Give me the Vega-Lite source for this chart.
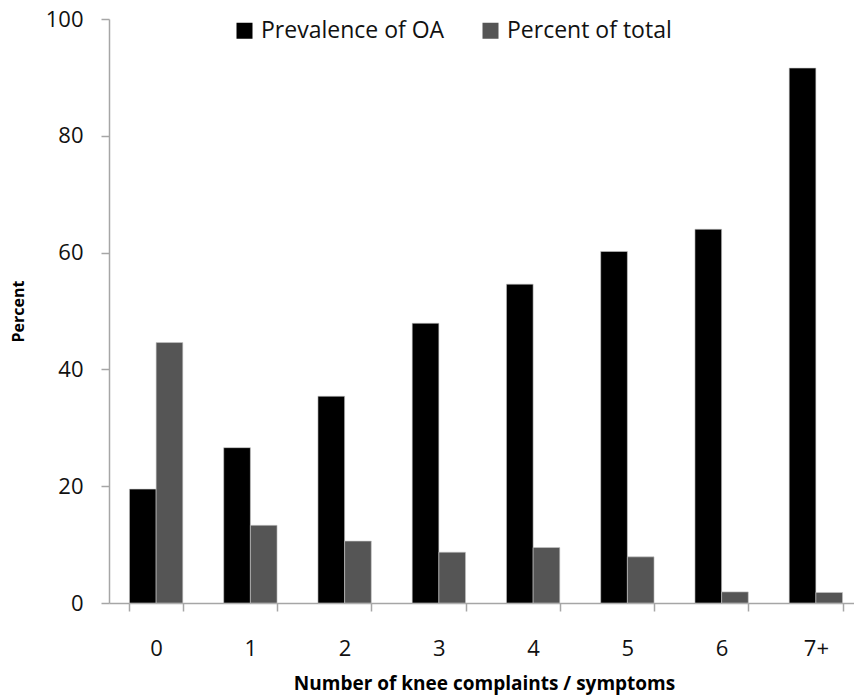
{
  "$schema": "https://vega.github.io/schema/vega-lite/v6.json",
  "autosize": {"type": "none"},
  "padding": {"left": 109, "top": 19, "right": 0, "bottom": 94},
  "width": 745,
  "height": 584,
  "background": "white",
  "config": {
    "view": {"stroke": null},
    "font": "Open Sans",
    "axis": {"grid": false, "domainColor": "#a6a6a6", "tickColor": "#a6a6a6", "domainWidth": 1.5, "tickWidth": 1.5, "labelColor": "#111111", "titleColor": "#000000"}
  },
  "data": {
    "values": [
      {"category": "0", "series": "Prevalence of OA", "value": 19.5},
      {"category": "0", "series": "Percent of total", "value": 44.6},
      {"category": "1", "series": "Prevalence of OA", "value": 26.6},
      {"category": "1", "series": "Percent of total", "value": 13.3},
      {"category": "2", "series": "Prevalence of OA", "value": 35.4},
      {"category": "2", "series": "Percent of total", "value": 10.6},
      {"category": "3", "series": "Prevalence of OA", "value": 47.9},
      {"category": "3", "series": "Percent of total", "value": 8.7},
      {"category": "4", "series": "Prevalence of OA", "value": 54.6},
      {"category": "4", "series": "Percent of total", "value": 9.5},
      {"category": "5", "series": "Prevalence of OA", "value": 60.2},
      {"category": "5", "series": "Percent of total", "value": 7.9},
      {"category": "6", "series": "Prevalence of OA", "value": 64.0},
      {"category": "6", "series": "Percent of total", "value": 1.9},
      {"category": "7+", "series": "Prevalence of OA", "value": 91.6},
      {"category": "7+", "series": "Percent of total", "value": 1.8}
    ]
  },
  "mark": {"type": "bar", "stroke": "#c8c8c8", "strokeWidth": 0.6},
  "encoding": {
    "x": {
      "field": "category",
      "type": "nominal",
      "sort": ["0", "1", "2", "3", "4", "5", "6", "7+"],
      "scale": {"range": [0, 754], "paddingInner": 0.434, "paddingOuter": 0.217},
      "axis": {
        "title": "Number of knee complaints  / symptoms",
        "titleFontSize": 19,
        "titleFontWeight": "bold",
        "titleX": 375,
        "titleY": 80,
        "titleBaseline": "middle",
        "labelAngle": 0,
        "labelFontSize": 22,
        "labelPadding": 27,
        "tickBand": "extent",
        "tickSize": 8
      }
    },
    "xOffset": {"field": "series", "type": "nominal", "sort": ["Prevalence of OA", "Percent of total"], "scale": {"paddingInner": 0, "paddingOuter": 0}},
    "y": {
      "field": "value",
      "type": "quantitative",
      "scale": {"domain": [0, 100], "nice": false},
      "axis": {
        "title": "Percent",
        "titleFontSize": 16,
        "titleFontWeight": "bold",
        "titleAngle": -90,
        "titleX": -91,
        "titleY": 292,
        "titleAlign": "center",
        "titleBaseline": "middle",
        "values": [0, 20, 40, 60, 80, 100],
        "labelFontSize": 22,
        "labelPadding": 18,
        "tickSize": 8
      }
    },
    "color": {
      "field": "series",
      "type": "nominal",
      "sort": ["Prevalence of OA", "Percent of total"],
      "scale": {"domain": ["Prevalence of OA", "Percent of total"], "range": ["#000000", "#555555"]},
      "legend": {
        "title": null,
        "orient": "none",
        "legendX": 124,
        "legendY": 0,
        "direction": "horizontal",
        "symbolType": "square",
        "symbolSize": 256,
        "symbolStrokeWidth": 0,
        "labelFontSize": 23,
        "labelLimit": 0,
        "labelColor": "#111111",
        "labelOffset": 5,
        "columnPadding": 34
      }
    }
  }
}
